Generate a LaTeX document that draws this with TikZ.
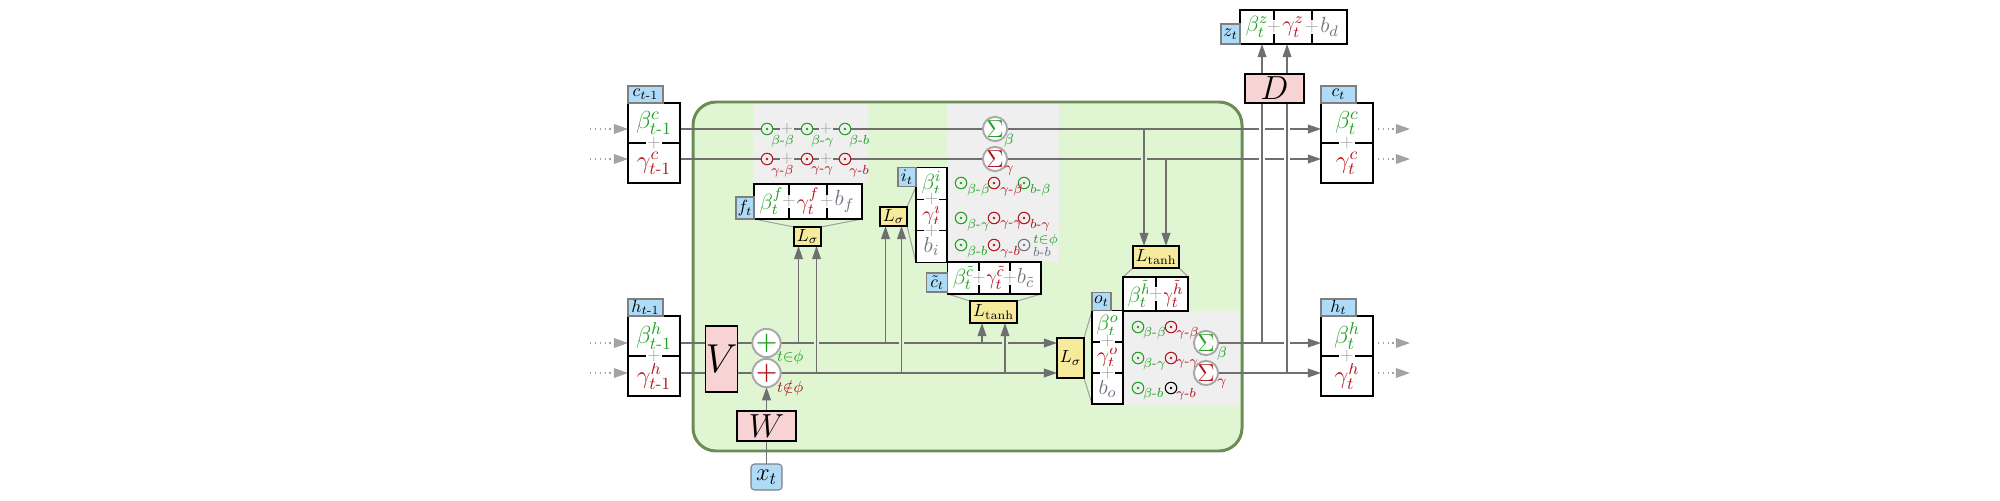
\documentclass[tikz,border=0pt]{standalone}
\usepackage{fix-cm}
\usepackage{amsmath}
\usepackage{xcolor}
\usepackage{tikz}
\usetikzlibrary{positioning,arrows.meta,calc}
\definecolor{lnGreen}{HTML}{1FA01F}
\definecolor{lnRed}{HTML}{B3141E}
\definecolor{lnBias}{HTML}{6C7480}
\definecolor{lnCell}{HTML}{E0F5D2}
\definecolor{lnCellLine}{HTML}{6D8B56}
\definecolor{lnGrey}{HTML}{EFEFEF}
\definecolor{lnTag}{HTML}{AEDCF8}
\definecolor{lnTagLine}{HTML}{7F7F7F}
\definecolor{lnMat}{HTML}{F8D3D3}
\definecolor{lnGate}{HTML}{F6EA9C}
\definecolor{lnWire}{HTML}{6F6F6F}
\definecolor{lnIO}{HTML}{A3A3A3}
\definecolor{lnPlus}{HTML}{A0A0A0}
\definecolor{lnRing}{HTML}{A8A8A8}

\newdimen\pxu \pxu=0.02cm
\newcommand\lnTiny{\fontsize{7.5}{8}\selectfont}
\newcommand\lnSmall{\fontsize{10}{11}\selectfont}
\newcommand\lnCellFont{\fontsize{12.5}{14}\selectfont}
\newcommand\lnBig{\fontsize{14}{16}\selectfont}
\newcommand\lnDash{\text{-}}

\pgfdeclarelayer{back}
\pgfdeclarelayer{wires}
\pgfsetlayers{back,wires,main}

\begin{document}
\begin{tikzpicture}[
  x=0.02cm, y=-0.02cm,
  every node/.style={inner sep=0pt, outer sep=0pt},
  cell/.style={rectangle, draw=black, fill=white, line width=0.75pt, font=\lnCellFont},
  iocell/.style={cell, font=\lnBig, minimum width=52\pxu, minimum height=40\pxu},
  tag/.style={rectangle, draw=lnTagLine, fill=lnTag, line width=0.6pt, font=\lnSmall},
  iotag/.style={tag, anchor=south west, minimum width=35\pxu, minimum height=17\pxu},
  gate/.style={rectangle, draw=black, fill=lnGate, line width=0.75pt, font=\lnSmall},
  wmat/.style={rectangle, draw=black, fill=lnMat, line width=0.75pt, font=\fontsize{19}{21}\selectfont},
  sepp/.style={fill=#1, text=lnPlus, font=\lnSmall, inner sep=0.4pt},
  od/.style={circle, draw=#1, fill=lnGrey, line width=0.6pt, minimum size=11.5\pxu,
    path picture={\fill[#1] (path picture bounding box.center) circle (1.3\pxu);}},
  ring/.style={circle, draw=lnRing, fill=white, line width=1.1pt, minimum size=22\pxu,
    font=\fontsize{14}{14}\selectfont},
  sub/.style={font=\lnTiny, text=#1, anchor=west},
  note/.style={font=\fontsize{8.5}{9}\selectfont, text=#1},
  wire/.style={draw=lnWire, line width=0.75pt},
  flow/.style={wire, -{Triangle[length=7.5pt,width=5pt]}},
  link/.style={draw=lnIO, line width=0.6pt},
  iodot/.style={draw=lnIO, line width=0.75pt, dotted, -{Triangle[length=8pt,width=5.5pt]}},
  gap/.style={preaction={draw=#1, -, line width=3pt, shorten <=3pt, shorten >=3pt}}
]
\useasboundingbox (0,0) rectangle (2000,500);

% ---- cell body ------------------------------------------------------------
\begin{pgfonlayer}{back}
  \draw[draw=lnCellLine, fill=lnCell, line width=1.7pt, rounded corners=23\pxu]
    (693,102) rectangle (1242,451);
  \fill[lnGrey] (753,104) rectangle (868,183);
  \fill[lnGrey] (947,104) rectangle (1059,262);
  \fill[lnGrey] (1123,311) rectangle (1240,405);
\end{pgfonlayer}

\coordinate (rcb) at (0,129);
\coordinate (rcg) at (0,159);
\coordinate (rhb) at (0,343);
\coordinate (rhg) at (0,373);

% ---- previous and next states ---------------------------------------------
\node[iocell, text=lnGreen] (cpb) at (654,123) {$\beta^{c}_{t\lnDash1}$};
\node[iocell, text=lnRed] (cpg) at (654,163) {$\gamma^{c}_{t\lnDash1}$};
\node[iotag] (cpt) at (cpb.north west) {$c_{t\lnDash1}$};
\node[sepp=white] (cpp) at (cpb.south) {$+$};

\node[iocell, text=lnGreen] (hpb) at (654,336) {$\beta^{h}_{t\lnDash1}$};
\node[iocell, text=lnRed] (hpg) at (654,376) {$\gamma^{h}_{t\lnDash1}$};
\node[iotag] (hpt) at (hpb.north west) {$h_{t\lnDash1}$};
\node[sepp=white] (hpp) at (hpb.south) {$+$};

\node[iocell, text=lnGreen] (ctb) at (1347,123) {$\beta^{c}_{t}$};
\node[iocell, text=lnRed] (ctg) at (1347,163) {$\gamma^{c}_{t}$};
\node[iotag] (ctt) at (ctb.north west) {$c_{t}$};
\node[sepp=white] (ctp) at (ctb.south) {$+$};

\node[iocell, text=lnGreen] (htb) at (1347,336) {$\beta^{h}_{t}$};
\node[iocell, text=lnRed] (htg) at (1347,376) {$\gamma^{h}_{t}$};
\node[iotag] (htt) at (htb.north west) {$h_{t}$};
\node[sepp=white] (htp) at (htb.south) {$+$};

% ---- input -----------------------------------------------------------------
\node[wmat, minimum width=31\pxu, minimum height=66\pxu, font=\fontsize{23}{25}\selectfont] (V) at (721.5,359) {$V$};
\node[wmat, minimum width=59\pxu, minimum height=30\pxu] (W) at (766.5,426) {$W$};
\node[tag, rounded corners=2pt, minimum width=31\pxu, minimum height=26\pxu, font=\lnBig] (xt) at (766.5,477) {$x_t$};
\node[ring, text=lnGreen, font=\lnBig] (pgb) at (766.5,343) {$\boldsymbol{+}$};
\node[ring, text=lnRed, font=\lnBig] (pgr) at (766.5,373) {$\boldsymbol{+}$};
\node[note=lnGreen, anchor=west, font=\fontsize{9}{10}\selectfont] (pin) at (777,358) {$t{\in}\phi$};
\node[note=lnRed, anchor=west, font=\fontsize{9}{10}\selectfont] (pout) at (777,388) {$t{\notin}\phi$};

% ---- forget gate -----------------------------------------------------------
\node[od=lnGreen] (ub1) at (767,129) {};
\node[od=lnGreen] (ub2) at (807,129) {};
\node[od=lnGreen] (ub3) at (845,129) {};
\node[od=lnRed] (ug1) at (767,159) {};
\node[od=lnRed] (ug2) at (807,159) {};
\node[od=lnRed] (ug3) at (845,159) {};
\node[sepp=lnGrey, font=\fontsize{8.5}{9}\selectfont] (ubp1) at ($(ub1)!0.5!(ub2)$) {$+$};
\node[sepp=lnGrey, font=\fontsize{8.5}{9}\selectfont] (ubp2) at ($(ub2)!0.5!(ub3)$) {$+$};
\node[sepp=lnGrey, font=\fontsize{8.5}{9}\selectfont] (ugp1) at ($(ug1)!0.5!(ug2)$) {$+$};
\node[sepp=lnGrey, font=\fontsize{8.5}{9}\selectfont] (ugp2) at ($(ug2)!0.5!(ug3)$) {$+$};
\node[sub=lnGreen] (ub1l) at ([shift={(4,12)}]ub1) {$\beta\lnDash\beta$};
\node[sub=lnGreen] (ub2l) at ([shift={(4,12)}]ub2) {$\beta\lnDash\gamma$};
\node[sub=lnGreen] (ub3l) at ([shift={(4,12)}]ub3) {$\beta\lnDash b$};
\node[sub=lnRed] (ug1l) at ([shift={(4,12)}]ug1) {$\gamma\lnDash\beta$};
\node[sub=lnRed] (ug2l) at ([shift={(4,12)}]ug2) {$\gamma\lnDash\gamma$};
\node[sub=lnRed] (ug3l) at ([shift={(4,12)}]ug3) {$\gamma\lnDash b$};

\node[cell, minimum width=35\pxu, minimum height=35\pxu, text=lnGreen] (fgb) at (771.5,201.5) {$\beta^{f}_t$};
\node[cell, minimum width=38\pxu, minimum height=35\pxu, text=lnRed] (fgg) at (808,201.5) {$\gamma^{f}_t$};
\node[cell, minimum width=35\pxu, minimum height=35\pxu, text=lnBias] (fgx) at (844.5,201.5) {$b_f$};
\node[sepp=white] (fgp1) at (fgb.east) {$+$};
\node[sepp=white] (fgp2) at (fgg.east) {$+$};
\node[tag, anchor=south east, minimum width=18\pxu, minimum height=22\pxu] (fgt) at (fgb.south west) {$f_t$};
\node[gate, minimum width=27\pxu, minimum height=19\pxu] (Lf) at (807.5,236.5) {$L_\sigma$};

% ---- input gate and candidate ----------------------------------------------
\node[cell, minimum width=31\pxu, minimum height=31.5\pxu, text=lnGreen] (igb) at (931.5,183.5) {$\beta^{i}_t$};
\node[cell, minimum width=31\pxu, minimum height=31.5\pxu, text=lnRed] (igg) at (931.5,215) {$\gamma^{i}_t$};
\node[cell, minimum width=31\pxu, minimum height=31.5\pxu, text=lnBias] (igx) at (931.5,246.5) {$b_i$};
\node[sepp=white] (igp1) at (igb.south) {$+$};
\node[sepp=white] (igp2) at (igg.south) {$+$};
\node[tag, anchor=north east, minimum width=18\pxu, minimum height=19\pxu] (igt) at (igb.north west) {$i_t$};
\node[gate, minimum width=27\pxu, minimum height=19\pxu] (Li) at (893.5,216.5) {$L_\sigma$};

\node[ring, text=lnGreen] (sb) at (995,129) {$\Sigma$};
\node[ring, text=lnRed] (sg) at (995,159) {$\Sigma$};
\node[note=lnGreen] (sbl) at ([shift={(14,12)}]sb) {$\beta$};
\node[note=lnRed] (sgl) at ([shift={(14,12)}]sg) {$\gamma$};

\node[od=lnGreen] (m11) at (961,183) {};
\node[od=lnRed] (m12) at (994,183) {};
\node[od=lnGreen] (m13) at (1024,183) {};
\node[od=lnGreen] (m21) at (961,218) {};
\node[od=lnRed] (m22) at (994,218) {};
\node[od=lnRed] (m23) at (1024,218) {};
\node[od=lnGreen] (m31) at (961,245) {};
\node[od=lnRed] (m32) at (994,245) {};
\node[od=lnBias] (m33) at (1024,245) {};
\node[sub=lnGreen] (m11l) at ([shift={(6,7)}]m11) {$\beta\lnDash\beta$};
\node[sub=lnRed] (m12l) at ([shift={(6,7)}]m12) {$\gamma\lnDash\beta$};
\node[sub=lnGreen] (m13l) at ([shift={(6,7)}]m13) {$b\lnDash\beta$};
\node[sub=lnGreen] (m21l) at ([shift={(6,7)}]m21) {$\beta\lnDash\gamma$};
\node[sub=lnRed] (m22l) at ([shift={(6,7)}]m22) {$\gamma\lnDash\gamma$};
\node[sub=lnRed] (m23l) at ([shift={(6,7)}]m23) {$b\lnDash\gamma$};
\node[sub=lnGreen] (m31l) at ([shift={(6,7)}]m31) {$\beta\lnDash b$};
\node[sub=lnRed] (m32l) at ([shift={(6,7)}]m32) {$\gamma\lnDash b$};
\node[sub=lnGreen] (m33u) at ([shift={(9,-5)}]m33) {$t{\in}\phi$};
\node[sub=lnBias] (m33l) at ([shift={(9,7)}]m33) {$b\lnDash b$};

\node[cell, minimum width=31.3\pxu, minimum height=32\pxu, text=lnGreen] (ccb) at (963.4,278) {$\beta^{\tilde{c}}_t$};
\node[cell, minimum width=31\pxu, minimum height=32\pxu, text=lnRed] (ccg) at (994.5,278) {$\gamma^{\tilde{c}}_t$};
\node[cell, minimum width=31\pxu, minimum height=32\pxu, text=lnBias] (ccx) at (1025.5,278) {$b_{\tilde{c}}$};
\node[sepp=white] (ccp1) at (ccb.east) {$+$};
\node[sepp=white] (ccp2) at (ccg.east) {$+$};
\node[tag, anchor=south east, minimum width=21\pxu, minimum height=19\pxu] (cct) at ([yshift=2\pxu]ccb.south west) {$\tilde{c}_t$};
\node[gate, minimum width=47\pxu, minimum height=22\pxu] (Lc) at (993.5,312) {$L_{\tanh}$};

% ---- output gate -----------------------------------------------------------
\node[cell, minimum width=31\pxu, minimum height=31\pxu, text=lnGreen] (ogb) at (1107.5,326) {$\beta^{o}_t$};
\node[cell, minimum width=31\pxu, minimum height=31\pxu, text=lnRed] (ogg) at (1107.5,357.5) {$\gamma^{o}_t$};
\node[cell, minimum width=31\pxu, minimum height=31\pxu, text=lnBias] (ogx) at (1107.5,388.5) {$b_o$};
\node[sepp=white] (ogp1) at (ogb.south) {$+$};
\node[sepp=white] (ogp2) at (ogg.south) {$+$};
\node[tag, anchor=south west, minimum width=19\pxu, minimum height=18\pxu] (ogt) at (ogb.north west) {$o_t$};
\node[gate, minimum width=27\pxu, minimum height=40\pxu] (Lo) at (1070.5,358) {$L_\sigma$};

\node[cell, minimum width=33\pxu, minimum height=34\pxu, text=lnGreen] (hhb) at (1139.5,294) {$\beta^{\tilde{h}}_t$};
\node[cell, minimum width=32\pxu, minimum height=34\pxu, text=lnRed] (hhg) at (1172,294) {$\gamma^{\tilde{h}}_t$};
\node[sepp=white] (hhp) at (hhb.east) {$+$};
\node[gate, minimum width=46\pxu, minimum height=22\pxu] (Lh) at (1156,257) {$L_{\tanh}$};

\node[od=lnGreen] (n11) at (1138,327) {};
\node[od=lnRed] (n12) at (1171,327) {};
\node[od=lnGreen] (n21) at (1138,358) {};
\node[od=lnRed] (n22) at (1171,358) {};
\node[od=lnGreen] (n31) at (1138,388) {};
\node[od=black] (n32) at (1171,388) {};
\node[sub=lnGreen] (n11l) at ([shift={(5,6)}]n11) {$\beta\lnDash\beta$};
\node[sub=lnRed] (n12l) at ([shift={(5,6)}]n12) {$\gamma\lnDash\beta$};
\node[sub=lnGreen] (n21l) at ([shift={(5,6)}]n21) {$\beta\lnDash\gamma$};
\node[sub=lnRed] (n22l) at ([shift={(5,6)}]n22) {$\gamma\lnDash\gamma$};
\node[sub=lnGreen] (n31l) at ([shift={(5,6)}]n31) {$\beta\lnDash b$};
\node[sub=lnRed] (n32l) at ([shift={(5,6)}]n32) {$\gamma\lnDash b$};

\node[ring, text=lnGreen] (sob) at (1206,343) {$\Sigma$};
\node[ring, text=lnRed] (sog) at (1206,373) {$\Sigma$};
\node[note=lnGreen] (sobl) at ([shift={(16,11)}]sob) {$\beta$};
\node[note=lnRed] (sogl) at ([shift={(16,11)}]sog) {$\gamma$};

% ---- decoder ---------------------------------------------------------------
\node[cell, minimum width=34\pxu, minimum height=34\pxu, text=lnGreen] (zb) at (1257,27) {$\beta^{z}_t$};
\node[cell, minimum width=38\pxu, minimum height=34\pxu, text=lnRed] (zg) at (1293,27) {$\gamma^{z}_t$};
\node[cell, minimum width=35\pxu, minimum height=34\pxu, text=lnBias] (zx) at (1329.5,27) {$b_d$};
\node[sepp=white] (zp1) at (zb.east) {$+$};
\node[sepp=white] (zp2) at (zg.east) {$+$};
\node[tag, anchor=south east, minimum width=19\pxu, minimum height=20\pxu] (zt) at (zb.south west) {$z_t$};
\node[wmat, minimum width=59\pxu, minimum height=29\pxu] (D) at (1274.5,88.5) {$D$};

% ---- wires -----------------------------------------------------------------
\begin{pgfonlayer}{wires}
  \draw[iodot] ($(cpb.west |- rcb)+(-38,0)$) -- (cpb.west |- rcb);
  \draw[iodot] ($(cpg.west |- rcg)+(-38,0)$) -- (cpg.west |- rcg);
  \draw[iodot] ($(hpb.west |- rhb)+(-38,0)$) -- (hpb.west |- rhb);
  \draw[iodot] ($(hpg.west |- rhg)+(-38,0)$) -- (hpg.west |- rhg);
  \draw[iodot] (ctb.east |- rcb) -- ++(37,0);
  \draw[iodot] (ctg.east |- rcg) -- ++(37,0);
  \draw[iodot] (htb.east |- rhb) -- ++(37,0);
  \draw[iodot] (htg.east |- rhg) -- ++(37,0);

  \draw[flow] (cpb.east |- rcb) -- (ctb.west |- rcb);
  \draw[flow] (cpg.east |- rcg) -- (ctg.west |- rcg);

  \draw[wire] (hpb.east |- rhb) -- (V.west |- rhb);
  \draw[wire] (hpg.east |- rhg) -- (V.west |- rhg);
  \draw[wire] (V.east |- rhb) -- (pgb);
  \draw[wire] (V.east |- rhg) -- (pgr);
  \draw[flow] (pgb) -- (Lo.west |- rhb);
  \draw[flow] (pgr) -- (Lo.west |- rhg);
  \draw[flow] (sob) -- (htb.west |- rhb);
  \draw[flow] (sog) -- (htg.west |- rhg);
  \draw[wire] (xt) -- (W);
  \draw[flow] (W) -- (pgr);

  \draw[link] (fgb.south west) -- (Lf.north west);
  \draw[link] (fgx.south east) -- (Lf.north east);
  \draw[link] (igt.south east) -- (Li.north east);
  \draw[link] (igx.south west) -- (Li.south east);
  \draw[link] (ccb.south west) -- (Lc.north west);
  \draw[link] (ccx.south east) -- (Lc.north east);
  \draw[link] (ogb.north west) -- (Lo.north east);
  \draw[link] (ogx.south west) -- (Lo.south east);
  \draw[link] (hhb.north west) -- (Lh.south west);
  \draw[link] (hhg.north east) -- (Lh.south east);

  \coordinate (fin1) at ([xshift=-9\pxu]Lf.south);
  \coordinate (fin2) at ([xshift=9\pxu]Lf.south);
  \coordinate (iin1) at ([xshift=-8\pxu]Li.south);
  \coordinate (iin2) at ([xshift=8\pxu]Li.south);
  \coordinate (cin1) at ([xshift=-11.5\pxu]Lc.south);
  \coordinate (cin2) at ([xshift=11.5\pxu]Lc.south);
  \coordinate (hin1) at ([xshift=-12\pxu]Lh.north);
  \coordinate (hin2) at ([xshift=10\pxu]Lh.north);
  \coordinate (dn1) at ([xshift=-12.5\pxu]D.south);
  \coordinate (dn2) at ([xshift=12.5\pxu]D.south);
  \coordinate (up1) at ([xshift=-12.5\pxu]D.north);
  \coordinate (up2) at ([xshift=12.5\pxu]D.north);

  \draw[flow] (fin1 |- rhb) -- (fin1);
  \draw[flow, gap=lnCell] (fin2 |- rhg) -- (fin2);
  \draw[flow] (iin1 |- rhb) -- (iin1);
  \draw[flow, gap=lnCell] (iin2 |- rhg) -- (iin2);
  \draw[flow] (cin1 |- rhb) -- (cin1);
  \draw[flow, gap=lnCell] (cin2 |- rhg) -- (cin2);
  \draw[flow, gap=lnCell] (hin1 |- rcb) -- (hin1);
  \draw[flow] (hin2 |- rcg) -- (hin2);
  \draw[wire, gap=white] (dn1 |- rhb) -- (dn1);
  \draw[wire, gap=white] (dn2 |- rhg) -- (dn2);
  \draw[flow] (up1) -- (up1 |- zb.south);
  \draw[flow] (up2) -- (up2 |- zg.south);
\end{pgfonlayer}

\end{tikzpicture}
\end{document}
